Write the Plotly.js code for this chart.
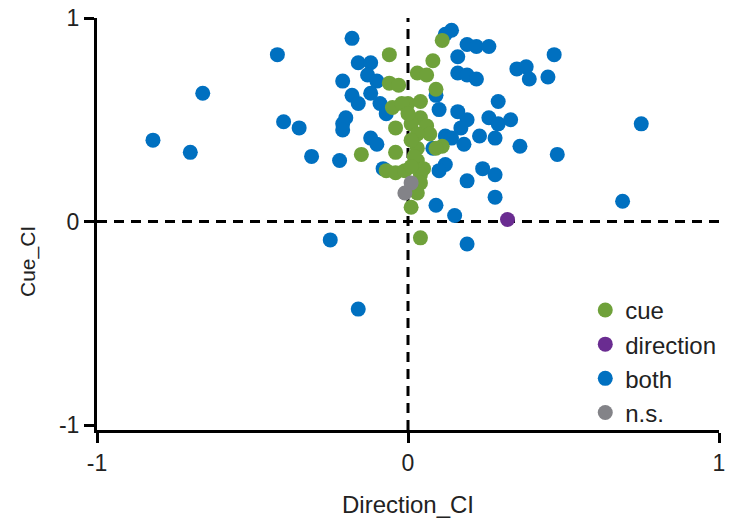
<!DOCTYPE html>
<html>
<head>
<meta charset="utf-8">
<script src="https://cdn.plot.ly/plotly-3.0.1.min.js"></script>
<style>html,body{margin:0;padding:0;background:#fff;}#chart{width:729px;height:520px;}</style>
</head>
<body>
<div id="chart"></div>
<script>
// both
var bothX = [-0.82,-0.70,-0.66,-0.42,-0.40,-0.35,-0.31,-0.22,-0.25,-0.16,-0.18,-0.16,-0.12,-0.21,-0.13,-0.10,-0.18,-0.16,-0.12,-0.09,-0.07,-0.20,-0.21,-0.21,-0.12,-0.10,-0.08,
  0.14,0.12,0.19,0.22,0.26,0.16,0.16,0.19,0.22,0.35,0.38,0.39,0.45,0.47,0.09,0.10,0.29,0.16,0.19,0.26,0.29,0.33,0.17,0.12,0.14,0.18,0.23,0.28,0.36,0.08,0.12,0.10,0.24,0.28,0.19,0.28,0.09,0.15,0.19,0.48,0.75,0.69];
var bothY = [0.40,0.34,0.63,0.82,0.49,0.46,0.32,0.30,-0.09,-0.43,0.90,0.78,0.78,0.69,0.72,0.69,0.62,0.58,0.63,0.58,0.53,0.51,0.48,0.45,0.41,0.38,0.26,
  0.94,0.92,0.87,0.86,0.86,0.81,0.73,0.72,0.70,0.75,0.76,0.70,0.71,0.82,0.62,0.55,0.59,0.54,0.50,0.51,0.48,0.50,0.46,0.42,0.41,0.38,0.42,0.41,0.37,0.36,0.28,0.25,0.26,0.23,0.20,0.12,0.08,0.03,-0.11,0.33,0.48,0.10];
// cue
var cueX = [0.11,-0.06,0.08,0.03,0.06,-0.06,-0.03,0.09,0.00,-0.05,-0.02,0.04,-0.04,0.01,0.06,0.07,0.03,0.11,0.09,-0.04,-0.15,0.03,0.03,0.05,-0.07,-0.04,-0.01,0.04,0.04,0.03,0.01,0.04,0.01,0.02,0.01,0.04,0.00];
var cueY = [0.89,0.82,0.79,0.73,0.72,0.68,0.67,0.65,0.58,0.56,0.58,0.51,0.46,0.48,0.47,0.43,0.43,0.37,0.36,0.34,0.33,0.36,0.30,0.26,0.25,0.24,0.25,0.23,0.19,0.14,0.07,-0.08,0.40,0.32,0.27,0.59,0.53];
// direction
var dirX = [0.32];
var dirY = [0.01];
// n.s.
var nsX = [0.01,-0.01];
var nsY = [0.19,0.14];

var tickVals = [-1,0,1];
var tickText = ['-1','0','1'];

var FONT = 'Liberation Sans, Arial, sans-serif';
function tr(name, xs, ys, color, rank){
  return {type:'scatter', mode:'markers', name:name, x:xs, y:ys, legendrank:rank, legendgroup:name,
    marker:{color:color, size:15, line:{width:0}}, cliponaxis:false};
}
var data = [
  tr('both', bothX, bothY, '#0070C0', 3),
  tr('cue', cueX, cueY, '#6FA13A', 1),
  tr('n.s.', nsX, nsY, '#838388', 4),
  tr('direction', dirX, dirY, '#6A2C91', 2)
];
var layout = {
  width:729, height:520,
  margin:{l:97, r:8, t:18, b:90},
  paper_bgcolor:'#fff', plot_bgcolor:'#fff',
  font:{family:FONT, size:24, color:'#000'},
  showlegend:true,
  legend:{x:0.785, y:0.345, xanchor:'left', yanchor:'top', font:{family:FONT, size:24, color:'#222'},
    bgcolor:'rgba(0,0,0,0)', tracegroupgap:0, traceorder:'grouped'},
  xaxis:{range:[-1,1], tickvals:tickVals, ticktext:tickText, showgrid:false, zeroline:false,
    showline:true, linecolor:'#000', linewidth:3, ticks:'outside', ticklen:10, tickwidth:3, tickcolor:'#000',
    tickfont:{family:FONT, size:23, color:'#222'},
    title:{text:'Direction_CI', font:{family:FONT, size:24, color:'#222'}, standoff:22}},
  yaxis:{range:[-1.024,1], tickvals:tickVals, ticktext:tickText, showgrid:false, zeroline:false,
    showline:true, linecolor:'#000', linewidth:3, ticks:'outside', ticklen:10, tickwidth:3, tickcolor:'#000',
    tickfont:{family:FONT, size:23, color:'#222'}},
  annotations:[
    {text:'Cue_CI', xref:'paper', yref:'paper', x:-0.111, y:0.41, textangle:-90, showarrow:false,
     xanchor:'center', yanchor:'middle', font:{family:FONT, size:21, color:'#222'}}
  ],
  shapes:[
    {type:'line', xref:'x', yref:'y', x0:-1, x1:1, y0:0, y1:0, line:{color:'#000', width:3, dash:'10px,7px'}, layer:'below'},
    {type:'line', xref:'x', yref:'y', x0:0, x1:0, y0:-1.024, y1:1, line:{color:'#000', width:3, dash:'10px,7px'}, layer:'below'}
  ]
};
Plotly.newPlot('chart', data, layout, {displayModeBar:false, staticPlot:true});
</script>
</body>
</html>
